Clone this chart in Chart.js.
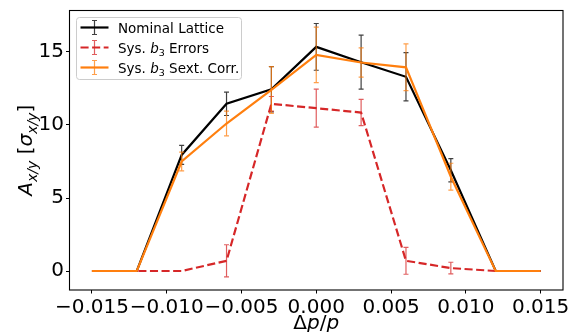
<!DOCTYPE html>
<html><head><meta charset="utf-8">
<script src="https://cdn.jsdelivr.net/npm/chart.js@4"></script>
<style>html,body{margin:0;padding:0;background:#fff;overflow:hidden}</style>
</head><body>
<canvas id="c" width="575" height="332"></canvas>
<script>
// ---- data ----
const deltaP = [-0.015, -0.012, -0.009, -0.006, -0.003, 0.000, 0.003, 0.006, 0.009, 0.012, 0.015];
const xTicks = [-0.015, -0.010, -0.005, 0.000, 0.005, 0.010, 0.015];
const yTicks = [0, 5, 10, 15];

const nominal    = [0, 0, 7.95, 11.45, 12.45, 15.35, 14.30, 13.30, 6.90, 0, 0];
const nominalErr = [0, 0, 0.65, 0.80, 1.55, 1.60, 1.85, 1.65, 0.80, 0, 0];

const sysErrors    = [0, 0, 0, 0.70, 11.45, 11.15, 10.85, 0.70, 0.20, 0, 0];
const sysErrorsErr = [0, 0, 0, 1.10, 0.50, 1.30, 0.90, 0.92, 0.40, 0, 0];

const sextCorr    = [0, 0, 7.50, 10.10, 12.40, 14.80, 14.28, 13.95, 6.46, 0, 0];
const sextCorrErr = [0, 0, 0.64, 0.85, 1.60, 1.90, 1.00, 1.60, 0.92, 0, 0];

const FAM = "'DejaVu Sans'";

function pts(vals) { return deltaP.map((x, i) => ({ x: x, y: vals[i] })); }
function fmt(v) { const s = Math.abs(v).toFixed(3); return (v < -1e-12 ? '\u2212' : '') + s; }

// rich text: pieces {t, s(size), i(italic), dy}
function richWidth(ctx, pieces) {
  let w = 0;
  pieces.forEach(p => { ctx.font = (p.i ? 'italic ' : '') + p.s + 'px ' + FAM; w += ctx.measureText(p.t).width; });
  return w;
}
function drawRich(ctx, pieces, x, y) {
  let cx = x;
  pieces.forEach(p => {
    ctx.font = (p.i ? 'italic ' : '') + p.s + 'px ' + FAM;
    ctx.fillText(p.t, cx, y + (p.dy || 0));
    cx += ctx.measureText(p.t).width;
  });
}

const errorBarPlugin = {
  id: 'errorBars',
  beforeDatasetDraw(chart, args) {
    const ds = chart.data.datasets[args.index];
    if (!ds.errors) return;
    const ctx = chart.ctx, xs = chart.scales.x, ys = chart.scales.y;
    const a = chart.chartArea;
    ctx.save();
    ctx.beginPath(); ctx.rect(a.left, a.top, a.right - a.left, a.bottom - a.top); ctx.clip();
    ctx.strokeStyle = ds.errColor; ctx.lineWidth = 1.2; ctx.setLineDash([]);
    ds.data.forEach((p, i) => {
      const e = ds.errors[i]; if (!e) return;
      const px = xs.getPixelForValue(p.x);
      const y1 = ys.getPixelForValue(p.y - e), y2 = ys.getPixelForValue(p.y + e);
      ctx.beginPath();
      ctx.moveTo(px, y1); ctx.lineTo(px, y2);
      ctx.moveTo(px - 2.5, y1); ctx.lineTo(px + 2.5, y1);
      ctx.moveTo(px - 2.5, y2); ctx.lineTo(px + 2.5, y2);
      ctx.stroke();
    });
    ctx.restore();
  }
};

const framePlugin = {
  id: 'frameAndText',
  afterDatasetsDraw(chart) {
    const ctx = chart.ctx, a = chart.chartArea;
    ctx.save();
    ctx.strokeStyle = '#000'; ctx.lineWidth = 1.1; ctx.setLineDash([]);
    ctx.strokeRect(a.left, a.top, a.right - a.left, a.bottom - a.top);
    ctx.restore();
  },
  afterDraw(chart) {
    const ctx = chart.ctx, a = chart.chartArea;
    ctx.save();
    ctx.fillStyle = '#000'; ctx.textBaseline = 'alphabetic'; ctx.textAlign = 'left';
    // x axis title
    const xl = [{ t: '\u0394', s: 20 }, { t: 'p', s: 20, i: true }, { t: '/', s: 20 }, { t: 'p', s: 20, i: true }];
    const xw = richWidth(ctx, xl);
    drawRich(ctx, xl, (a.left + a.right) / 2 - xw / 2, 329);
    // y axis title
    const yl = [{ t: 'A', s: 20, i: true }, { t: 'x/y', s: 14, i: true, dy: 4.5 }, { t: ' [', s: 20 },
                { t: '\u03c3', s: 20, i: true }, { t: 'x/y', s: 14, i: true, dy: 4.5 }, { t: ']', s: 20 }];
    const yw = richWidth(ctx, yl);
    ctx.translate(32, (a.top + a.bottom) / 2);
    ctx.rotate(-Math.PI / 2);
    drawRich(ctx, yl, -yw / 2, 0);
    ctx.restore();

    // legend
    ctx.save();
    const bx = 76.5, by = 17.5, bw = 165, bh = 62, r = 3;
    ctx.beginPath();
    ctx.moveTo(bx + r, by); ctx.lineTo(bx + bw - r, by); ctx.arcTo(bx + bw, by, bx + bw, by + r, r);
    ctx.lineTo(bx + bw, by + bh - r); ctx.arcTo(bx + bw, by + bh, bx + bw - r, by + bh, r);
    ctx.lineTo(bx + r, by + bh); ctx.arcTo(bx, by + bh, bx, by + bh - r, r);
    ctx.lineTo(bx, by + r); ctx.arcTo(bx, by, bx + r, by, r); ctx.closePath();
    ctx.fillStyle = 'rgba(255,255,255,0.8)'; ctx.fill();
    ctx.strokeStyle = '#cccccc'; ctx.lineWidth = 1; ctx.stroke();

    const entries = [
      { ds: chart.data.datasets[0], y: 27.5, text: [{ t: 'Nominal Lattice', s: 13.5 }] },
      { ds: chart.data.datasets[1], y: 47.5, text: [{ t: 'Sys. ', s: 13.5 }, { t: 'b', s: 13.5, i: true }, { t: '3', s: 9.5, dy: 3 }, { t: ' Errors', s: 13.5 }] },
      { ds: chart.data.datasets[2], y: 67.5, text: [{ t: 'Sys. ', s: 13.5 }, { t: 'b', s: 13.5, i: true }, { t: '3', s: 9.5, dy: 3 }, { t: ' Sext. Corr.', s: 13.5 }] }
    ];
    entries.forEach(en => {
      const ds = en.ds, cx = 94.5;
      ctx.strokeStyle = ds.errColor; ctx.lineWidth = 1.2; ctx.setLineDash([]);
      ctx.beginPath();
      ctx.moveTo(cx, en.y - 7); ctx.lineTo(cx, en.y + 7);
      ctx.moveTo(cx - 2.5, en.y - 7); ctx.lineTo(cx + 2.5, en.y - 7);
      ctx.moveTo(cx - 2.5, en.y + 7); ctx.lineTo(cx + 2.5, en.y + 7);
      ctx.stroke();
      ctx.strokeStyle = ds.borderColor; ctx.lineWidth = ds.borderWidth;
      ctx.setLineDash(ds.borderDash || []);
      ctx.beginPath(); ctx.moveTo(80.5, en.y); ctx.lineTo(108.5, en.y); ctx.stroke();
      ctx.setLineDash([]);
      ctx.fillStyle = '#000';
      drawRich(ctx, en.text, 118, en.y + 5);
    });
    ctx.restore();
  }
};

new Chart(document.getElementById('c'), {
  type: 'line',
  data: {
    datasets: [
      { label: 'Nominal Lattice', data: pts(nominal), errors: nominalErr,
        borderColor: '#000000', errColor: 'rgba(0,0,0,0.75)', borderWidth: 2.2, order: 3 },
      { label: 'Sys. b3 Errors', data: pts(sysErrors), errors: sysErrorsErr,
        borderColor: '#d62728', errColor: 'rgba(214,39,40,0.75)', borderWidth: 2.2, borderDash: [8.1, 3.5], order: 2 },
      { label: 'Sys. b3 Sext. Corr.', data: pts(sextCorr), errors: sextCorrErr,
        borderColor: '#ff7f0e', errColor: 'rgba(255,127,14,0.75)', borderWidth: 2.2, order: 1 }
    ].map(d => Object.assign({ pointRadius: 0, pointHoverRadius: 0, tension: 0, fill: false }, d))
  },
  options: {
    responsive: false,
    animation: false,
    devicePixelRatio: 1,
    layout: { padding: { top: 10.5, right: 12, left: 0, bottom: 0 } },
    plugins: { legend: { display: false }, tooltip: { enabled: false } },
    scales: {
      x: {
        type: 'linear', min: -0.0165, max: 0.0165,
        afterBuildTicks: s => { s.ticks = xTicks.map(v => ({ value: v })); },
        afterFit: s => { s.height = 42; s.paddingLeft = 0; s.paddingRight = 0; },
        ticks: { callback: v => fmt(v), font: { family: FAM, size: 20 }, color: '#000', padding: 2, maxRotation: 0, autoSkip: false },
        grid: { drawOnChartArea: false, drawTicks: true, tickLength: 3.5, tickColor: '#000', tickWidth: 1 },
        border: { display: false }
      },
      y: {
        type: 'linear', min: -1.3, max: 17.84,
        afterBuildTicks: s => { s.ticks = yTicks.map(v => ({ value: v })); },
        afterFit: s => { s.width = 69.5; s.paddingTop = 0; s.paddingBottom = 0; },
        ticks: { callback: v => String(v), font: { family: FAM, size: 20 }, color: '#000', padding: 2, autoSkip: false },
        grid: { drawOnChartArea: false, drawTicks: true, tickLength: 3.5, tickColor: '#000', tickWidth: 1 },
        border: { display: false }
      }
    }
  },
  plugins: [errorBarPlugin, framePlugin]
});
</script>
</body></html>
